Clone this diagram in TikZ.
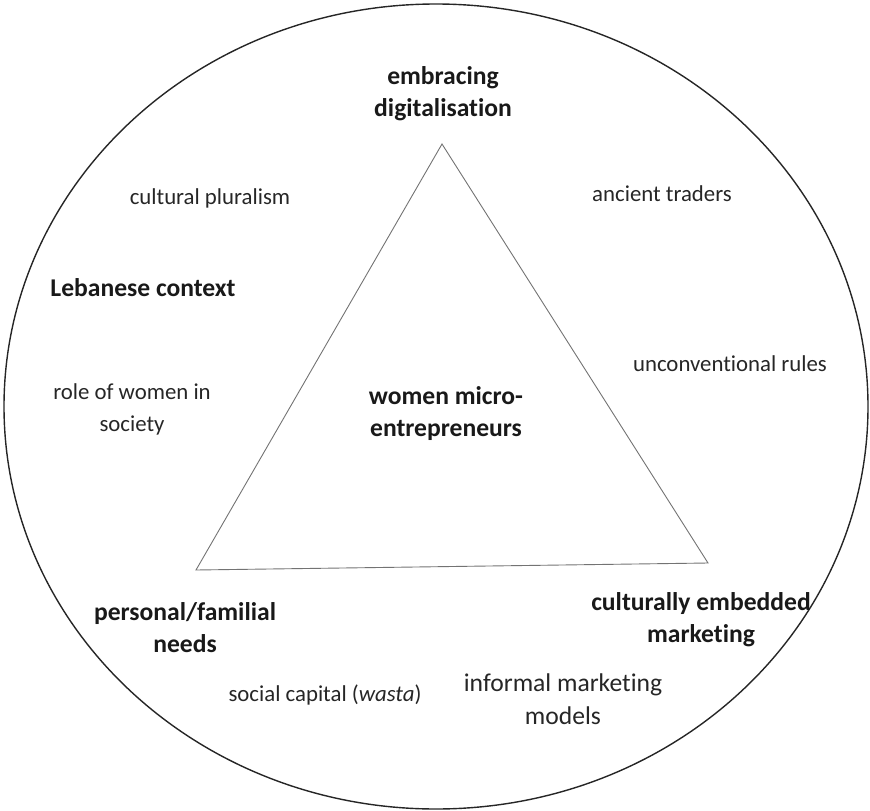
\documentclass[tikz,border=0pt]{standalone}
\usepackage{fontspec}
\setmainfont{Carlito}[Ligatures=NoCommon]
\usetikzlibrary{shapes.geometric}
\begin{document}
\begin{tikzpicture}[x=1pt,y=-1pt]
        \useasboundingbox (0,0) rectangle (870,811);
        \begin{scope}
            \tikzset{klabel/.style = {
                font=\fontsize{25.6}{32}\selectfont\bfseries,
                text=black!90,
                align=center,
                inner sep=0pt } }
            \tikzset{slabel/.style = {
                font=\fontsize{22.8}{32}\selectfont,
                text=black!85,
                align=center,
                inner sep=0pt } }
            \tikzset{tedge/.style = {
                draw=black!55,
                line width=0.9pt} }
                % outer circle
                \node[draw=black!85, line width=1.4pt, ellipse, minimum width=864pt, minimum height=805pt, inner sep=0pt] (ring) at (436,406.5) {};
                % triangle
                \coordinate (tt) at (442,144);
                \coordinate (tl) at (196,570);
                \coordinate (tr) at (708,563);
                \path[tedge] (tt)--(tl)--(tr)--cycle;
                % labels
                \node[klabel] (digi) at (443,94) {embracing\\digitalisation};
                \node[klabel] (core) at (446,414) {women micro-\\entrepreneurs};
                \node[klabel] (leb) at (143,288) {Lebanese context};
                \node[klabel] (fam) at (185,628) {personal/familial\\needs};
                \node[klabel] (mkt) at (701,620) {culturally embedded\\marketing};
                \node[slabel] (plur) at (210,198) {cultural pluralism};
                \node[slabel] (trad) at (662,194) {ancient traders};
                \node[slabel] (rule) at (730,364) {unconventional rules};
                \node[slabel] (role) at (132,409) {role of women in\\society};
                \node[slabel] (wasta) at (325,695) {social capital (\textit{wasta})};
                \node[slabel, font=\fontsize{25.6}{33}\selectfont] (info) at (563,699) {informal marketing\\models};
        \end{scope}
    \end{tikzpicture}
\end{document}
